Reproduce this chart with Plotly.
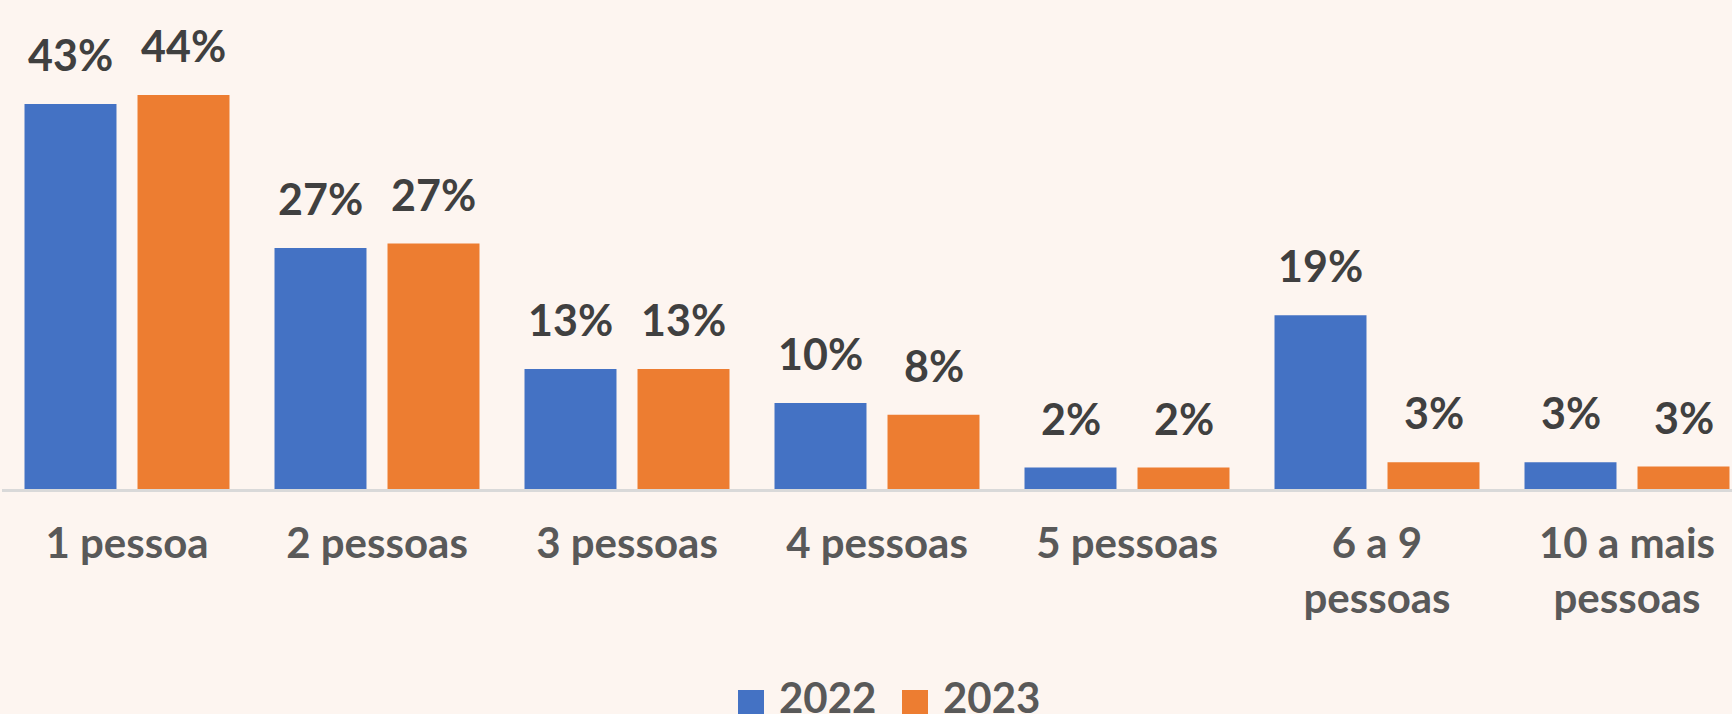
import plotly.graph_objects as go

categories = ["1 pessoa", "2 pessoas", "3 pessoas", "4 pessoas", "5 pessoas",
              "6 a 9<br>pessoas", "10 a mais<br>pessoas"]
series_names = ["2022", "2023"]
values_2022 = [43.0, 26.9, 13.4, 9.6, 2.4, 19.4, 3.0]
values_2023 = [44.0, 27.4, 13.4, 8.3, 2.4, 3.0, 2.5]
labels_2022 = ["43%", "27%", "13%", "10%", "2%", "19%", "3%"]
labels_2023 = ["44%", "27%", "13%", "8%", "2%", "3%", "3%"]
colors = ["#4472C4", "#ED7D31"]

BG = "#FDF5F0"
FONT = "Lato"

fig = go.Figure()
for name, vals, col in zip(series_names, [values_2022, values_2023], colors):
    fig.add_trace(go.Bar(x=categories, y=vals, name=name, marker_color=col,
                         marker_line_width=0, showlegend=False, hoverinfo="skip"))

# data labels
slot_shift = 56.5
for vals, labs, sh in [(values_2022, labels_2022, -slot_shift), (values_2023, labels_2023, slot_shift)]:
    for c, v, t in zip(categories, vals, labs):
        fig.add_annotation(x=c, y=v, text=f"<b>{t}</b>", showarrow=False,
                           xref="x", yref="y", xanchor="center", yanchor="bottom",
                           xshift=sh, yshift=22,
                           font=dict(family=FONT, size=43, color="#404040"))

# legend (manual, to match large square keys)
plot_left, plot_w, plot_bottom = 2, 1730, 489
def px2x(px):
    return (px - plot_left) / plot_w
def py2y(py):
    return (plot_bottom - py) / plot_bottom

legend_items = [(738, 777), (902, 941)]
for (sq_x, tx_x), name, col in zip(legend_items, series_names, colors):
    fig.add_shape(type="rect", xref="paper", yref="paper",
                  x0=px2x(sq_x), x1=px2x(sq_x + 26), y0=py2y(690), y1=py2y(716),
                  fillcolor=col, line_width=0)
    fig.add_annotation(x=px2x(tx_x), y=py2y(670), xref="paper", yref="paper",
                       text=f"<b>{name}</b>", showarrow=False,
                       xanchor="left", yanchor="top",
                       font=dict(family=FONT, size=42, color="#595959"))

fig.update_layout(
    width=1732, height=714,
    paper_bgcolor=BG, plot_bgcolor=BG,
    margin=dict(l=2, r=0, t=0, b=225),
    barmode="group", bargap=0.096, bargroupgap=0.186,
    showlegend=False,
    font=dict(family=FONT, color="#595959"),
)
fig.update_xaxes(
    type="category", range=[-0.5, 6.42],
    showline=True, linecolor="#D9D9D9", linewidth=3,
    showgrid=False, ticks="", ticklabelstandoff=16,
    tickfont=dict(family=FONT, size=42, color="#595959", weight="bold"),
    fixedrange=True,
)
fig.update_yaxes(range=[0, 54.6], visible=False, showgrid=False, zeroline=False,
                 fixedrange=True)

fig.write_html("out.html", config={"displayModeBar": False},
               post_script="document.body.style.margin='0';")
